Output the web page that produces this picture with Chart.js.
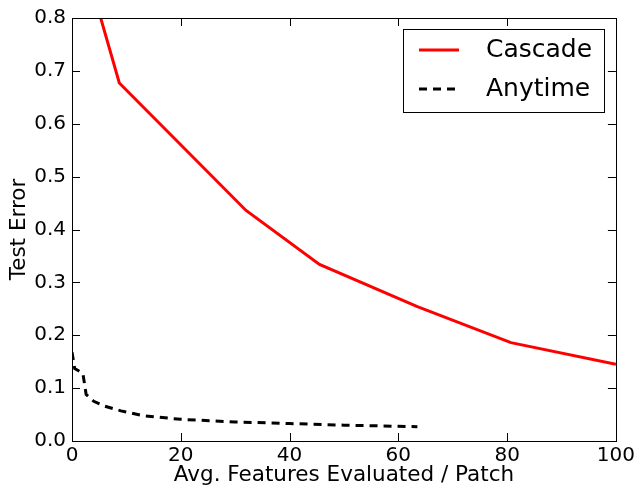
<!DOCTYPE html>
<html>
<head>
<meta charset="utf-8">
<script src="https://cdn.jsdelivr.net/npm/chart.js@4"></script>
<style>
  html, body { margin: 0; padding: 0; background: #fff; }
  #wrap { width: 638px; height: 488px; }
</style>
</head>
<body>
<div id="wrap"><canvas id="chart" width="638" height="488"></canvas></div>
<script>
// cascade curve
const cascadeX = [4.3, 8.7, 32, 45.5, 63.5, 80.7, 100];
const cascadeY = [0.835, 0.677, 0.436, 0.334, 0.254, 0.186, 0.145];
// anytime curve
const anytimeX = [0, 0.5, 2, 2.6, 4, 6, 9, 13, 20, 30, 40, 50, 63.5];
const anytimeY = [0.168, 0.137, 0.128, 0.088, 0.075, 0.066, 0.057, 0.048, 0.041, 0.036, 0.033, 0.030, 0.027];

const xTicks = [0, 20, 40, 60, 80, 100];
const yTicks = [0.0, 0.1, 0.2, 0.3, 0.4, 0.5, 0.6, 0.7, 0.8];
const seriesNames = ['Cascade', 'Anytime'];

const FONT = '"DejaVu Sans", sans-serif';

const toPts = (xs, ys) => xs.map((x, i) => ({ x: x, y: ys[i] }));

// box + inward ticks on all four sides, matplotlib style
const frame = {
  id: 'frame',
  afterDatasetsDraw(chart) {
    const { ctx, chartArea: a, scales } = chart;
    ctx.save();
    ctx.strokeStyle = '#000';
    ctx.lineWidth = 1;
    ctx.beginPath();
    xTicks.forEach(v => {
      const px = Math.round(scales.x.getPixelForValue(v)) + 0.5;
      ctx.moveTo(px, a.bottom); ctx.lineTo(px, a.bottom - 8);
      ctx.moveTo(px, a.top); ctx.lineTo(px, a.top + 8);
    });
    yTicks.forEach(v => {
      const py = Math.round(scales.y.getPixelForValue(v)) + 0.5;
      ctx.moveTo(a.left, py); ctx.lineTo(a.left + 8, py);
      ctx.moveTo(a.right, py); ctx.lineTo(a.right - 8, py);
    });
    ctx.stroke();
    ctx.strokeRect(Math.round(a.left) + 0.5, Math.round(a.top) + 0.5,
      Math.round(a.right - a.left), Math.round(a.bottom - a.top));

    // legend box
    const lx = 403, ly = 29, lw = 201, lh = 83;
    ctx.fillStyle = '#fff';
    ctx.fillRect(lx, ly, lw, lh);
    ctx.strokeRect(lx + 0.5, ly + 0.5, lw, lh);
    ctx.font = '25px ' + FONT;
    ctx.textBaseline = 'middle';
    ctx.textAlign = 'left';
    const ds = chart.data.datasets;
    [50, 89].forEach((yy, i) => {
      ctx.strokeStyle = ds[i].borderColor;
      ctx.lineWidth = 3;
      ctx.setLineDash(ds[i].borderDash || []);
      ctx.beginPath();
      ctx.moveTo(419, yy); ctx.lineTo(459, yy);
      ctx.stroke();
      ctx.setLineDash([]);
      ctx.fillStyle = '#000';
      ctx.fillText(seriesNames[i], 486, yy);
    });
    ctx.restore();
  }
};

new Chart(document.getElementById('chart'), {
  type: 'line',
  data: {
    datasets: [{
      label: seriesNames[0],
      data: toPts(cascadeX, cascadeY),
      borderColor: '#ff0000',
      borderWidth: 3,
      pointRadius: 0,
      tension: 0
    }, {
      label: seriesNames[1],
      data: toPts(anytimeX, anytimeY),
      borderColor: '#000000',
      borderWidth: 3,
      borderDash: [8, 6],
      pointRadius: 0,
      tension: 0
    }]
  },
  options: {
    responsive: false,
    animation: false,
    layout: { padding: { left: 0, right: 21, top: 15, bottom: 0 } },
    plugins: { legend: { display: false }, tooltip: { enabled: false } },
    scales: {
      x: {
        type: 'linear',
        min: 0, max: 100,
        afterBuildTicks: s => { s.ticks = xTicks.map(v => ({ value: v })); },
        afterFit: s => { s.height = 47; },
        grid: { display: false, drawTicks: false },
        border: { display: false },
        ticks: { color: '#000', font: { family: FONT, size: 20 }, padding: 3, maxRotation: 0 },
        title: { display: true, text: 'Avg. Features Evaluated / Patch', color: '#000',
                 font: { family: FONT, size: 21.5 }, padding: { top: 0, bottom: 0 } }
      },
      y: {
        type: 'linear',
        min: 0, max: 0.8,
        afterBuildTicks: s => { s.ticks = yTicks.map(v => ({ value: v })); },
        afterFit: s => { s.width = 72; },
        grid: { display: false, drawTicks: false },
        border: { display: false },
        ticks: { color: '#000', font: { family: FONT, size: 20 }, padding: 6,
                 callback: v => v.toFixed(1) },
        title: { display: true, text: 'Test Error', color: '#000',
                 font: { family: FONT, size: 21.5 }, padding: { top: 7, bottom: 0 } }
      }
    }
  },
  plugins: [frame]
});
</script>
</body>
</html>
